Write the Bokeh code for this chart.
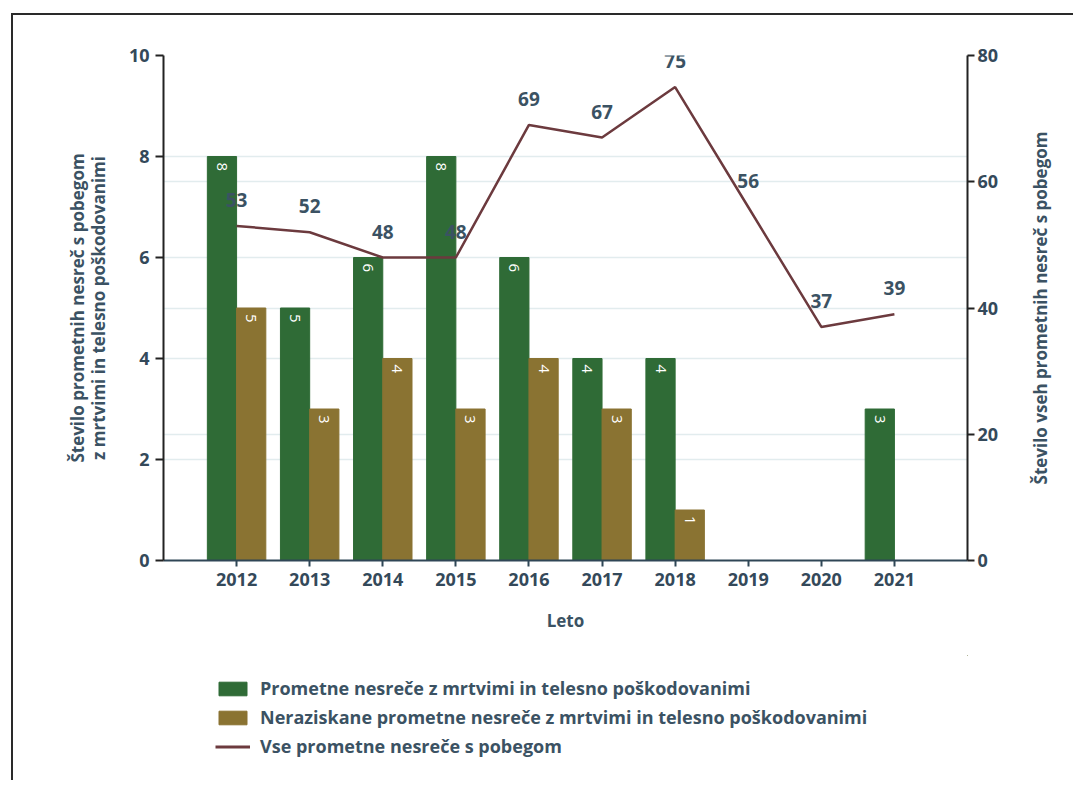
from math import pi
from bokeh.plotting import figure
from bokeh.layouts import column, row
from bokeh.models import (Range1d, LinearAxis, FixedTicker, Grid, Legend, LegendItem,
                          ColumnDataSource)
from bokeh.transform import dodge
from bokeh.core.properties import value
from bokeh.embed import file_html
from bokeh.resources import INLINE

# ---- data ----
years = [2012, 2013, 2014, 2015, 2016, 2017, 2018, 2019, 2020, 2021]
fatal_injury = [8, 5, 6, 8, 6, 4, 4, 0, 0, 3]
unsolved = [5, 3, 4, 3, 4, 3, 1, 0, 0, 0]
all_hit_run = [53, 52, 48, 48, 69, 67, 75, 56, 37, 39]
year_labels = [str(y) for y in years]

left_title = "Število prometnih nesreč s pobegom\nz mrtvimi in telesno poškodovanimi"
right_title = "Število vseh prometnih nesreč s pobegom"
x_title = "Leto"
series_names = ["Prometne nesreče z mrtvimi in telesno poškodovanimi",
                "Neraziskane prometne nesreče z mrtvimi in telesno poškodovanimi",
                "Vse prometne nesreče s pobegom"]

GREEN = "#2f6b36"
OLIVE = "#8a7332"
LINE = "#6c3a3e"
TEXT = "#3b5263"
FONT = value("Open Sans")

p = figure(width=1000, height=640, x_range=Range1d(2011, 2022), y_range=Range1d(0, 10),
           output_backend="svg", toolbar_location=None,
           min_border_left=150, min_border_right=46, min_border_top=40, min_border_bottom=95)
p.outline_line_color = None
p.background_fill_color = "white"
p.border_fill_color = "white"
p.extra_y_ranges = {"right": Range1d(0, 80)}

# grids
p.xgrid.grid_line_color = None
p.ygrid.ticker = FixedTicker(ticks=[2, 4, 6, 8, 10])
p.ygrid.grid_line_color = "#e2ecee"
p.ygrid.grid_line_width = 1.5
p.add_layout(Grid(dimension=1, ticker=FixedTicker(ticks=[20, 40, 60, 80]), y_range_name="right",
                  grid_line_color="#e2ecee", grid_line_width=1.5))

# bars
src = ColumnDataSource(dict(x=years, g=fatal_injury, o=unsolved))
rg = p.vbar(x=dodge("x", -0.2, range=p.x_range), top="g", width=0.4, source=src,
            fill_color=GREEN, line_color=GREEN)
ro = p.vbar(x=dodge("x", 0.2, range=p.x_range), top="o", width=0.4, source=src,
            fill_color=OLIVE, line_color=OLIVE)

# bar labels
gl = ColumnDataSource(dict(x=[y for y, v in zip(years, fatal_injury) if v > 0],
                           y=[v for v in fatal_injury if v > 0],
                           t=[str(v) for v in fatal_injury if v > 0]))
ol = ColumnDataSource(dict(x=[y for y, v in zip(years, unsolved) if v > 0],
                           y=[v for v in unsolved if v > 0],
                           t=[str(v) for v in unsolved if v > 0]))
for s, off in ((gl, -0.2), (ol, 0.2)):
    p.text(x=dodge("x", off, range=p.x_range), y="y", text="t", source=s, angle=-pi / 2,
           text_align="left", text_baseline="middle", y_offset=6,
           text_color="white", text_font=FONT, text_font_size="15px")

# line
lsrc = ColumnDataSource(dict(x=years, y=all_hit_run, t=[str(v) for v in all_hit_run]))
rl = p.line(x="x", y="y", source=lsrc, y_range_name="right", line_color=LINE, line_width=2.5)
p.text(x="x", y="y", text="t", source=lsrc, y_range_name="right", y_offset=-26,
       text_align="center", text_baseline="middle", text_color=TEXT, text_font=FONT,
       text_font_style="bold", text_font_size="19px")

# axes
xa = p.xaxis[0]
xa.ticker = FixedTicker(ticks=years)
xa.major_label_overrides = {y: l for y, l in zip(years, year_labels)}
xa.axis_label = x_title
xa.axis_line_color = "#2f4656"
xa.axis_line_width = 2
xa.major_tick_line_color = "#2f4656"
xa.major_tick_line_width = 2
xa.major_tick_in = 0
xa.major_tick_out = 6
xa.minor_tick_line_color = None
xa.major_label_standoff = 6
xa.axis_label_standoff = 20

ya = p.yaxis[0]
ya.ticker = FixedTicker(ticks=[0, 2, 4, 6, 8, 10])
ya.axis_label = left_title
ya.axis_line_color = "#222222"
ya.axis_line_width = 2
ya.major_tick_line_color = "#222222"
ya.major_tick_line_width = 2
ya.major_tick_in = 0
ya.major_tick_out = 8
ya.minor_tick_line_color = None
ya.major_label_standoff = 6
ya.axis_label_standoff = 16
ya.axis_label_text_line_height = 0.9

ra = LinearAxis(y_range_name="right", ticker=FixedTicker(ticks=[0, 20, 40, 60, 80]))
ra.axis_line_color = "#222222"
ra.axis_line_width = 2
ra.major_tick_line_color = "#222222"
ra.major_tick_line_width = 2
ra.major_tick_in = 0
ra.major_tick_out = 7
ra.minor_tick_line_color = None
ra.major_label_standoff = 3
p.add_layout(ra, "right")

for ax in (xa, ya, ra):
    ax.major_label_text_font = "Open Sans"
    ax.major_label_text_font_style = "bold"
    ax.major_label_text_font_size = "18px"
    ax.major_label_text_color = "#34495a"
    ax.axis_label_text_font = "Open Sans"
    ax.axis_label_text_font_style = "bold"
    ax.axis_label_text_font_size = "17px"
    ax.axis_label_text_color = TEXT

# right-hand title strip: an axis label reading bottom-to-top
t = figure(width=60, height=640, x_range=Range1d(0, 1), y_range=Range1d(0, 1),
           x_axis_type=None, output_backend="svg", toolbar_location=None,
           min_border_left=50, min_border_right=0, min_border_top=40, min_border_bottom=95)
t.outline_line_color = None
t.grid.visible = False
ty = t.yaxis[0]
ty.ticker = FixedTicker(ticks=[])
ty.axis_line_color = None
ty.major_tick_line_color = None
ty.minor_tick_line_color = None
ty.major_label_text_font_size = "0px"
ty.major_label_standoff = 0
ty.major_tick_out = 0
ty.axis_label = right_title
ty.axis_label_standoff = 12
ty.axis_label_text_font = "Open Sans"
ty.axis_label_text_font_style = "bold"
ty.axis_label_text_font_size = "17px"
ty.axis_label_text_color = TEXT

# legend figure (frame is aligned with the chart's frame by the column layout)
q = figure(width=1000, height=125, x_range=Range1d(0, 1), y_range=Range1d(0, 1),
           x_axis_type=None, y_axis_type=None, output_backend="svg", toolbar_location=None,
           min_border=0)
q.outline_line_color = None
q.grid.visible = False
dg = q.vbar(x=[5], top=[5], bottom=[4], width=0.1, fill_color=GREEN, line_color=GREEN)
do = q.vbar(x=[5], top=[5], bottom=[4], width=0.1, fill_color=OLIVE, line_color=OLIVE)
dl = q.line(x=[5, 6], y=[5, 5], line_color=LINE, line_width=3)
legend = Legend(items=[LegendItem(label=series_names[0], renderers=[dg]),
                       LegendItem(label=series_names[1], renderers=[do]),
                       LegendItem(label=series_names[2], renderers=[dl])],
                location=(52, 22), orientation="vertical",
                padding=0, margin=0, spacing=5, label_height=22, glyph_height=17,
                glyph_width=35, label_standoff=10,
                label_text_font="Open Sans", label_text_font_style="bold",
                label_text_font_size="18px", label_text_color=TEXT,
                border_line_color=None, background_fill_alpha=0)
q.add_layout(legend, "center")

page = row(column(p, q, spacing=0), t, spacing=0)
page.margin = (13, 0, 0, 11)
page.styles = {"border-top": "2px solid #2a2a2a", "border-left": "2px solid #2a2a2a"}

open("out.html", "w").write(file_html(page, INLINE))
